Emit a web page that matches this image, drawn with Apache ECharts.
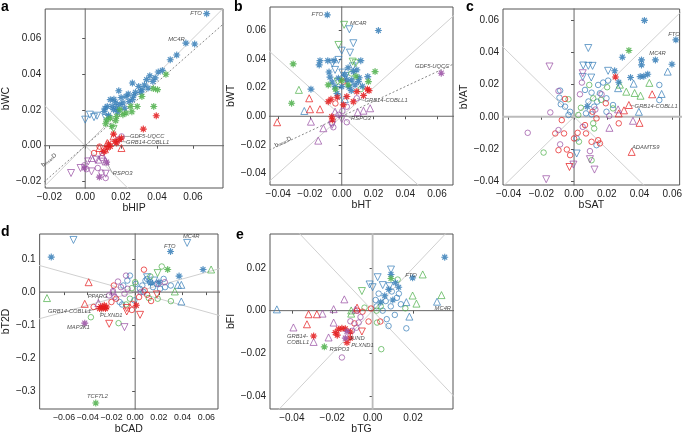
<!DOCTYPE html>
<html><head><meta charset="utf-8">
<script src="https://cdn.jsdelivr.net/npm/echarts@6/dist/echarts.min.js"></script>
<style>html,body{margin:0;padding:0;background:#fff}#c{width:685px;height:436px}</style>
</head><body><div id="c"></div><script>
// ---------- tick labels ----------
const aXTicks=[-0.02,0,0.02,0.04,0.06], aYTicks=[-0.02,0,0.02,0.04,0.06];
const bXTicks=[-0.04,-0.02,0,0.02,0.04,0.06], bYTicks=[-0.04,-0.02,0,0.02,0.04,0.06];
const cXTicks=[-0.04,-0.02,0,0.02,0.04,0.06], cYTicks=[-0.04,-0.02,0,0.02,0.04,0.06];
const dXTicks=[-0.06,-0.04,-0.02,0,0.02,0.04,0.06], dYTicks=[-0.3,-0.2,-0.1,0,0.1];
const eXTicks=[-0.04,-0.02,0,0.02], eYTicks=[-0.04,-0.02,0,0.02];
// ---------- data: [x, y, shape]  s=asterisk u=triangle up d=triangle down o=circle ----------
const aBlue=[[0.0677,0.074,'s'],[0.0561,0.0575,'s'],[0.061,0.057,'s'],[0.051,0.0508,'s'],[0.0474,0.0482,'s'],[0.043,0.0422,'s'],[0.0407,0.0413,'s'],[0.036,0.0392,'s'],[0.0342,0.037,'s'],[0.0263,0.0351,'s'],[0.0187,0.0308,'s'],[0.0298,0.0332,'s'],[0.0316,0.0314,'s'],[0.028,0.0299,'s'],[0.0228,0.0276,'s'],[0.014,0.0258,'s'],[0.0123,0.022,'s'],[0.0158,0.0202,'s'],[0.0193,0.023,'s'],[0.021,0.024,'s'],[0.0245,0.0248,'s'],[0.0263,0.0258,'s'],[0.035,0.0323,'s'],[0.0377,0.036,'s'],[0.0105,0.0192,'s'],[0.0175,0.0211,'s'],[0.016,0.026,'s'],[0.02,0.027,'s'],[0.024,0.029,'s'],[0.018,0.019,'s'],[0.013,0.017,'s'],[0.022,0.021,'s'],[0.027,0.028,'s'],[0.031,0.03,'s'],[0.033,0.034,'s'],[0.039,0.038,'s'],[0.017,0.024,'s'],[0.015,0.022,'s'],[0.011,0.021,'s'],[0.0,0.0146,'d'],[0.0026,0.0174,'d'],[0.0049,0.016,'d'],[0.0066,0.0168,'d'],[0.0114,0.0155,'d']];
const aGreen=[[0.045,0.04,'s'],[0.038,0.032,'s'],[0.0403,0.0314,'s'],[0.0382,0.022,'s'],[0.0316,0.0276,'s'],[0.0193,0.0202,'s'],[0.0228,0.0183,'s'],[0.0175,0.0164,'s'],[0.014,0.0155,'s'],[0.0114,0.0123,'s'],[0.0149,0.0108,'s'],[0.0254,0.022,'s'],[0.029,0.022,'s'],[0.021,0.0174,'s'],[0.026,0.019,'s'],[0.017,0.014,'s'],[0.012,0.0145,'s'],[0.0158,0.0094,'d']];
const aRed=[[0.0396,0.0168,'s'],[0.0324,0.0093,'s'],[0.0158,0.0065,'s'],[0.0189,0.0034,'s'],[0.0175,0.0015,'s'],[0.014,-0.0004,'s'],[0.0123,-0.0013,'s'],[0.0105,-0.0032,'s'],[0.0202,0.0043,'s'],[0.0166,0.0024,'s'],[0.013,0.001,'s'],[0.0158,0.0052,'u'],[0.0202,-0.0013,'u'],[0.0079,-0.0013,'u'],[0.0123,0.0015,'u'],[0.011,-0.002,'u'],[0.0049,-0.0041,'o'],[0.0096,-0.0041,'o'],[0.008,-0.0005,'o']];
const aPurple=[[0.0203,0.0052,'o'],[0.0185,0.0035,'o'],[-0.0079,-0.0153,'d'],[-0.0026,-0.0125,'d'],[0.0035,-0.0144,'d'],[0.0017,-0.0088,'d'],[0.0061,-0.0078,'d'],[0.0114,-0.0157,'d'],[0.0008,-0.0131,'o'],[0.0091,-0.015,'o'],[0.0114,-0.0181,'o'],[0.0093,-0.0069,'o'],[0.007,-0.0125,'o'],[-0.0005,-0.011,'o'],[0.0074,-0.0078,'u'],[0.0114,-0.0088,'u'],[0.0035,-0.0069,'u'],[0.0095,-0.005,'u'],[0.0079,-0.0176,'s'],[-0.0004,-0.0125,'s'],[0.0119,-0.0092,'s']];

const bBlue=[[-0.0091,0.0711,'s'],[0.0231,0.0601,'s'],[-0.0137,0.039,'s'],[-0.0142,0.036,'s'],[-0.0088,0.039,'s'],[-0.0049,0.039,'s'],[0.012,0.039,'s'],[0.0095,0.0325,'s'],[0.0073,0.0313,'s'],[0.0164,0.0278,'s'],[-0.0194,0.019,'s'],[-0.0074,0.0274,'s'],[-0.0021,0.0267,'s'],[0.0032,0.0255,'s'],[0.0063,0.0255,'s'],[0.0105,0.0243,'s'],[-0.0042,0.0208,'s'],[0,0.0208,'s'],[0.0046,0.0204,'s'],[0.0084,0.022,'s'],[-0.006,0.024,'s'],[0.002,0.029,'s'],[0.006,0.018,'s'],[-0.003,0.016,'s'],[0.011,0.027,'s'],[0.013,0.021,'s'],[-0.008,0.031,'s'],[0.004,0.034,'s'],[0.0048,0.061,'d'],[0.0073,0.0512,'d'],[0,0.046,'d'],[0.0052,0.0446,'d'],[-0.0021,0.0395,'d'],[-0.0059,0.0372,'d'],[-0.0042,0.0325,'d'],[0.0004,0.0306,'d'],[0.0025,0.0283,'d'],[0.007,0.035,'d'],[-0.0236,0.0037,'u'],[0.002,0.012,'u'],[-0.002,0.014,'o'],[0.005,0.023,'o']];
const bGreen=[[-0.0306,0.0367,'s'],[-0.0316,0.0091,'s'],[0.021,0.0313,'s'],[0.0168,0.0243,'s'],[-0.0085,0.022,'s'],[0.009,0.028,'s'],[0.0,0.025,'s'],[0.004,0.022,'s'],[-0.004,0.019,'s'],[0.0015,0.0641,'d'],[-0.0021,0.05,'d'],[0.0069,0.0383,'d'],[0.0088,0.0372,'d'],[-0.0025,0.0243,'d'],[-0.027,0.0185,'u'],[0.012,0.019,'o'],[0.006,0.03,'o']];
const bRed=[[0.0162,0.019,'s'],[0.0172,0.018,'s'],[0.0137,0.0145,'s'],[0.0095,0.0173,'s'],[0.0032,0.0138,'s'],[-0.0028,0.0133,'s'],[-0.0068,0.0119,'s'],[-0.0085,0.0102,'s'],[0.0073,0.0102,'s'],[-0.0063,-0.0003,'s'],[-0.0059,-0.0026,'s'],[0.001,0.008,'s'],[-0.0407,-0.0042,'u'],[-0.0205,0.0126,'u'],[-0.02,0.0049,'u'],[-0.0137,0.0049,'u'],[0.001,0.0243,'o'],[-0.004,0.009,'o']];
const bPurple=[[0.0627,0.0302,'s'],[-0.0194,-0.0038,'u'],[-0.0116,-0.0084,'u'],[-0.0148,-0.0171,'u'],[0.0179,0.0056,'u'],[0.0137,0.0039,'u'],[0.0101,0.0028,'u'],[-0.0042,0.0032,'u'],[0.0095,0.0126,'o'],[0.0032,0.0067,'o'],[0.0004,0.0037,'o'],[-0.0063,-0.0049,'o'],[-0.0053,-0.0077,'o'],[0.0032,-0.0042,'o'],[-0.002,0.001,'o'],[-0.006,-0.006,'d'],[0.0,-0.002,'d']];

const cBlue=[[0.043,0.06,'s'],[0.0622,0.0479,'s'],[0.0295,0.0371,'s'],[0.0412,0.0354,'s'],[0.0412,0.0323,'s'],[0.0497,0.0354,'s'],[0.0598,0.0327,'s'],[0.0248,0.0286,'s'],[0.0345,0.0244,'s'],[0.0404,0.025,'s'],[0.0426,0.0252,'s'],[0.045,0.0265,'s'],[0.0273,0.0215,'s'],[0.0081,0.0063,'s'],[0.0572,0.0281,'u'],[0.0364,0.0206,'u'],[0.0535,0.0142,'u'],[0.0396,0.0031,'u'],[0.0269,0.0178,'u'],[0.0087,0.0428,'d'],[0.0056,0.0319,'d'],[0.0087,0.0317,'d'],[0.0113,0.0317,'d'],[0.0105,0.0244,'d'],[0.0053,0.0248,'d'],[0.0208,0.0286,'d'],[0.0016,-0.0229,'d'],[-0.0085,0.0163,'o'],[-0.0089,0.0119,'o'],[-0.0081,0.0078,'o'],[-0.0055,0.0063,'o'],[-0.0024,0.0031,'o'],[-0.0034,0.0011,'o'],[0.0067,0.0167,'o'],[0.0107,0.015,'o'],[0.0147,0.0198,'o'],[0.0178,0.0213,'o'],[0.0158,0.0146,'o'],[0.0198,0.0115,'o'],[0.0141,0.0094,'o'],[0.0123,0.0063,'o'],[0.0073,0.0021,'o'],[0.0107,0.0015,'o'],[0.0198,0.0031,'o'],[0.0238,0.0073,'o'],[0.0521,0.0198,'o'],[0.0521,0.0104,'o'],[0.0137,-0.0177,'o'],[0.0016,-0.0135,'o'],[0.0208,0.0225,'o'],[0.0088,0.0095,'o']];
const cGreen=[[0.0335,0.0413,'s'],[0.046,0.0211,'u'],[0.037,0.0148,'u'],[0.0406,0.0131,'u'],[0.0319,0.0156,'u'],[0.028,0.02,'u'],[-0.0034,0.0109,'o'],[0.0042,0.0056,'o'],[0.0026,0.0011,'o'],[0.0093,0.0198,'o'],[0.0117,0.0115,'o'],[-0.0186,-0.0223,'o'],[0.0107,-0.0271,'o'],[0.0117,-0.0041,'o'],[0.0123,-0.0073,'o'],[0.0238,0.0052,'o'],[0.0202,0.0184,'o'],[0.0165,0.0105,'o'],[0.003,-0.0155,'o']];
const cRed=[[0.0253,0.0248,'s'],[0.0477,0.014,'u'],[0.0335,0.0073,'u'],[0.0305,0.004,'u'],[0.04,-0.0038,'u'],[0.0352,-0.0219,'u'],[0.0273,0.0021,'u'],[-0.0028,-0.0313,'d'],[-0.0055,0.0111,'o'],[-0.0075,-0.0021,'o'],[-0.0115,-0.0104,'o'],[-0.0061,-0.0104,'o'],[-0.0095,-0.0208,'o'],[-0.0044,-0.0204,'o'],[-0.0024,-0.0239,'o'],[0.0022,-0.01,'o'],[0.0073,-0.0104,'o'],[0.0107,-0.0156,'o'],[0.0147,-0.0146,'o'],[0.0158,-0.0166,'o'],[0.0067,-0.0052,'o'],[0.0137,-0.001,'o'],[0.0273,-0.0041,'o'],[0.0194,0.0084,'o'],[0.0113,0.0031,'o'],[0.0,-0.0135,'o']];
const cPurple=[[-0.015,0.0313,'d'],[0.0053,0.0271,'d'],[-0.017,-0.0389,'d'],[0.0097,-0.0264,'d'],[0.0125,-0.0329,'d'],[-0.0004,-0.0298,'d'],[0.036,-0.0025,'u'],[0.0216,-0.0069,'u'],[0.0269,0.0046,'u'],[-0.0283,-0.01,'o'],[-0.0145,0.0027,'o'],[0.0036,0.014,'o'],[0.0048,0.0213,'o'],[-0.0095,-0.0083,'o'],[-0.0085,-0.0172,'o'],[0.0097,-0.0214,'o'],[0.0053,-0.0063,'o'],[0.0168,0.014,'o'],[-0.0095,0.016,'o'],[0.0215,0.0005,'o'],[0.013,0.0045,'o']];

const dBlue=[[-0.0707,0.106,'s'],[0.0298,0.123,'s'],[0.0572,0.0685,'s'],[0.037,0.0485,'s'],[0.013,0.028,'s'],[0.02,0.03,'s'],[-0.052,0.158,'d'],[0.0438,0.149,'d'],[0.01,0.045,'d'],[0.016,0.035,'d'],[0.0389,0.022,'u'],[0.0389,-0.0285,'u'],[0.036,0.022,'u'],[-0.0044,0.05,'o'],[-0.0066,0.035,'o'],[0.0005,0.025,'o'],[0.006,0.02,'o'],[0.0087,0.035,'o'],[0.0128,0.03,'o'],[0.021,0.01,'o'],[0.0252,0.015,'o'],[-0.0008,-0.025,'o'],[-0.0131,-0.03,'o'],[-0.011,-0.0375,'o'],[0.01,0.04,'o'],[0.015,0.015,'o'],[0.004,0.01,'o'],[0.018,0.025,'o'],[0.024,0.04,'o'],[0.03,0.02,'o'],[-0.01,0.02,'o'],[0.007,0.0,'o']];
const dGreen=[[-0.0332,-0.336,'s'],[0.0274,0.0685,'s'],[0.064,0.0685,'u'],[-0.0743,-0.018,'u'],[0.0334,0.002,'u'],[0.0189,0.0576,'d'],[0.0224,0.0776,'o'],[0.0128,0.0473,'o'],[-0.014,-0.094,'o'],[-0.0373,-0.076,'o'],[0.0301,-0.0273,'o'],[0.0115,-0.018,'o'],[-0.0044,-0.02,'o'],[-0.0077,-0.0375,'o'],[-0.0028,0.012,'o'],[0.0,0.03,'o'],[0.019,-0.02,'o']];
const dRed=[[-0.029,-0.044,'s'],[-0.027,-0.048,'s'],[-0.025,-0.05,'s'],[-0.024,-0.045,'s'],[-0.03,-0.05,'s'],[-0.026,-0.04,'s'],[0.001,-0.04,'s'],[-0.0392,0.03,'u'],[-0.0425,-0.0355,'u'],[-0.0219,-0.096,'d'],[-0.0071,-0.0587,'d'],[0.0041,-0.0688,'d'],[0.0183,-0.007,'d'],[-0.0071,-0.048,'d'],[-0.035,-0.045,'o'],[-0.018,0.02,'o'],[0.0101,-0.008,'o'],[0.0033,-0.015,'o'],[0.0134,-0.027,'o'],[-0.0022,-0.0355,'o'],[-0.0028,-0.054,'o'],[-0.016,-0.02,'o'],[-0.02,-0.03,'o'],[0.008,0.005,'o'],[0.0074,0.068,'o']];
const dPurple=[[-0.0425,-0.094,'s'],[-0.031,-0.033,'u'],[-0.0187,0.002,'u'],[-0.009,-0.106,'d'],[-0.0077,0.05,'o'],[-0.0145,0.032,'o'],[-0.0187,0.003,'o'],[-0.009,-0.005,'o'],[0.0197,0.025,'o'],[0.0046,0.0,'o'],[-0.0173,-0.015,'o'],[-0.0063,0.01,'o'],[-0.022,-0.01,'o'],[0.025,0.03,'o'],[-0.012,0.015,'o']];

const eBlue=[[0.0357,0.0251,'s'],[0.0198,0.0154,'s'],[0.0091,0.017,'s'],[0.0129,0.011,'s'],[0.0113,0.0131,'s'],[0.008,0.01,'s'],[0.006,0.007,'s'],[0.01,0.005,'s'],[0.004,0.004,'s'],[-0.0474,0.0006,'u'],[0.0319,0.0042,'u'],[0.0182,-0.0028,'u'],[0.0167,0.004,'u'],[0.0091,0.0193,'d'],[0.0025,0.0157,'d'],[-0.0015,0.0123,'d'],[0.0084,0.0115,'d'],[0.005,0.012,'d'],[0.0,0.011,'d'],[0.0167,-0.0083,'o'],[0.0079,-0.0072,'o'],[0.003,0.008,'o'],[0.0065,0.0045,'o'],[0.009,0.002,'o'],[0.012,0.006,'o'],[0.014,0.003,'o'],[0.005,0.0,'o'],[0.011,-0.002,'o'],[0.002,0.002,'o'],[0.007,-0.004,'o'],[0.013,0.008,'o'],[0.0015,0.005,'o'],[0.0095,0.009,'o']];
const eGreen=[[-0.0239,-0.017,'s'],[0.0091,0.0151,'s'],[0.0248,0.017,'u'],[0.0198,0.0071,'u'],[0.0341,0.0073,'u'],[0.0217,0.0033,'u'],[-0.0106,0.0001,'u'],[-0.0106,-0.0014,'u'],[-0.0053,0.0092,'d'],[0.0043,-0.0181,'o'],[0.0124,0.0146,'o'],[0.0162,0.0011,'o'],[0.0022,-0.0056,'o'],[-0.004,0.0014,'o'],[0.004,0.002,'o'],[0.002,0.0,'o']];
const eRed=[[-0.0292,-0.0119,'s'],[-0.0185,-0.0103,'s'],[-0.0169,-0.0087,'s'],[-0.0152,-0.0083,'s'],[-0.0127,-0.015,'s'],[-0.0111,-0.0129,'s'],[-0.0135,-0.0085,'s'],[-0.011,-0.01,'s'],[-0.0175,-0.0115,'s'],[-0.0276,-0.0017,'u'],[-0.0317,-0.0017,'u'],[-0.0325,-0.0064,'u'],[-0.0077,0.0014,'u'],[-0.0053,-0.0098,'d'],[-0.002,-0.0051,'o'],[0.0038,-0.0051,'o'],[-0.0077,0.0,'o'],[-0.005,-0.0005,'o'],[-0.0008,0.001,'o'],[-0.009,-0.006,'o']];
const ePurple=[[-0.0135,-0.0129,'s'],[-0.0127,-0.0098,'s'],[-0.0392,-0.0079,'u'],[-0.0248,-0.0014,'u'],[-0.0193,0.0007,'u'],[-0.014,0.0053,'u'],[-0.0193,-0.0056,'u'],[-0.0218,-0.0126,'u'],[-0.0292,-0.0147,'u'],[-0.0085,0.0005,'u'],[-0.0152,-0.022,'o'],[-0.0069,-0.0056,'o'],[-0.0102,-0.0095,'o'],[-0.008,-0.008,'o'],[-0.006,-0.003,'o'],[-0.011,-0.005,'o']];

// ---------- gene labels: [x, y, text, align] ----------
const aLabels=[[0.0649,0.074,'FTO','right'],[0.0554,0.0598,'MC4R','right'],[0.0249,0.0052,'GDF5-UQCC','left'],[0.0228,0.0021,'GRB14-COBLL1','left'],[0.0154,-0.0157,'RSPO3','left']];
const bLabels=[[-0.0118,0.0711,'FTO','right'],[0.0052,0.0653,'MC4R','left'],[0.0678,0.0348,'GDF5-UQCC','right'],[0.0143,0.011,'GRB14-COBLL1','left'],[0.0059,-0.0014,'RSPO3','left']];
const cLabels=[[0.0645,0.0515,'FTO','right'],[0.046,0.0396,'MC4R','left'],[0.037,0.0067,'GRB14-COBLL1','left'],[0.0354,-0.0188,'ADAMTS9','left']];
const dLabels=[[0.0403,0.168,'MC4R','left'],[0.0243,0.14,'FTO','left'],[-0.040,-0.012,'PPARG','left'],[-0.0735,-0.059,'GRB14-COBLL1','left'],[-0.0296,-0.071,'PLXND1','left'],[-0.0575,-0.106,'MAP3K1','left'],[-0.0406,-0.316,'TCF7L2','left']];
const eLabels=[[0.0162,0.0165,'FTO','left'],[0.0307,0.001,'MC4R','left'],[-0.0424,-0.0121,'GRB14-','left'],[-0.0424,-0.015,'COBLL1','left'],[-0.0116,-0.0129,'JUND','left'],[-0.0106,-0.0161,'PLXND1','left'],[-0.0213,-0.0181,'RSPO3','left']];
// leader lines [[x1,y1],[x2,y2]]
const aLeaders=[[[0.0249,0.0052],[0.0205,0.0052]],[[0.0228,0.0021],[0.0192,0.0026]],[[0.0154,-0.0157],[0.0121,-0.0096]]];
const bLeaders=[[[0.0143,0.011],[0.0097,0.0124]],[[0.0059,-0.0014],[0.002,0.0012]]];
const cLeaders=[[[0.037,0.0067],[0.0338,0.0073]]];
const dLeaders=[[[-0.0425,-0.059],[-0.031,-0.05]],[[-0.0296,-0.067],[-0.027,-0.05]],[[-0.031,-0.016],[-0.031,-0.03]]];
const eLeaders=[];
// reference line slopes (through origin)
const aDotSlope=0.886, bDotSlope=0.52;

const COLORS={blue:'#377eb8',green:'#4daf4a',red:'#e41a1c',purple:'#984ea3'};
const HALO={blue:'rgba(55,126,184,0.35)',green:'rgba(77,175,74,0.35)',red:'rgba(228,26,28,0.35)',purple:'rgba(152,78,163,0.35)'};
const FONT='Liberation Sans';
const STAR='path://M5,0L5,10M0,5L10,5M1.5,1.5L8.5,8.5M1.5,8.5L8.5,1.5';

const panels=[
 {grid:{left:35,top:9,width:188,height:179},x:[-0.0223,0.0768],y:[-0.0237,0.0766],xt:aXTicks,yt:aYTicks,xd:2,yd:2,xn:'bHIP',yn:'bWC',yg:20,xf:10,
  groups:{blue:aBlue,green:aGreen,red:aRed,purple:aPurple},labels:aLabels,leaders:aLeaders,dot:aDotSlope},
 {grid:{left:270,top:7,width:183,height:178},x:[-0.0452,0.0701],y:[-0.0482,0.0766],xt:bXTicks,yt:bYTicks,xd:2,yd:2,xn:'bHT',yn:'bWT',yg:25,xf:10,
  groups:{blue:bBlue,green:bGreen,red:bRed,purple:bPurple},labels:bLabels,leaders:bLeaders,dot:bDotSlope},
 {grid:{left:503,top:9,width:178,height:176},x:[-0.0434,0.0645],y:[-0.0425,0.0671],xt:cXTicks,yt:cYTicks,xd:2,yd:2,xn:'bSAT',yn:'bVAT',yg:25,xf:10,hLight:true,
  groups:{blue:cBlue,green:cGreen,red:cRed,purple:cPurple},labels:cLabels,leaders:cLeaders},
 {grid:{left:35,top:234,width:183,height:176},x:[-0.0805,0.0698],y:[-0.354,0.176],xt:dXTicks,yt:dYTicks,xd:2,yd:1,xn:'bCAD',yn:'bT2D',yg:22,xf:8.8,
  groups:{blue:dBlue,green:dGreen,red:dRed,purple:dPurple},labels:dLabels,leaders:dLeaders},
 {grid:{left:270,top:234,width:183,height:176},x:[-0.0508,0.0398],y:[-0.0462,0.036],xt:eXTicks,yt:eYTicks,xd:2,yd:2,xn:'bTG',yn:'bFI',yg:23,xf:10,vLight:true,
  groups:{blue:eBlue,green:eGreen,red:eRed,purple:ePurple},labels:eLabels,leaders:eLeaders}
];

function fmt(d){return v=>(v<-1e-9?'\u2212':'')+Math.abs(v).toFixed(d);}
const grids=[],xAxes=[],yAxes=[],series=[];
panels.forEach((p,i)=>{
  grids.push(Object.assign({show:true,borderColor:'#555',borderWidth:1,backgroundColor:'transparent'},p.grid));
  const common={gridIndex:i,type:'value',splitLine:{show:false},axisLine:{show:false},
    nameLocation:'middle',nameTextStyle:{fontSize:10.5,color:'#222',fontFamily:FONT}};
  xAxes.push(Object.assign({},common,{min:p.x[0],max:p.x[1],name:p.xn,nameGap:15,
    axisTick:{show:true,customValues:p.xt,length:3,lineStyle:{color:'#555'}},
    axisLabel:{customValues:p.xt,formatter:fmt(p.xd),fontSize:p.xf,color:'#222',margin:4,fontFamily:FONT,showMinLabel:true,showMaxLabel:true,hideOverlap:false}}));
  yAxes.push(Object.assign({},common,{min:p.y[0],max:p.y[1],name:p.yn,nameGap:p.yg,
    axisTick:{show:true,customValues:p.yt,length:3,lineStyle:{color:'#555'}},
    axisLabel:{customValues:p.yt,formatter:fmt(p.yd),fontSize:10,color:'#222',margin:4,fontFamily:FONT,showMinLabel:true,showMaxLabel:true,hideOverlap:false}}));
  const line=(data,color,width,type)=>series.push({type:'line',xAxisIndex:i,yAxisIndex:i,data:data,symbol:'none',silent:true,clip:true,
    lineStyle:{color:color,width:width,type:type||'solid'},z:1,animation:false});
  line([[-1,-1],[1,1]],'#d0d0d0',1);
  line([[-1,1],[1,-1]],'#d0d0d0',1);
  if(p.dot) line([[-1,-p.dot],[1,p.dot]],'#888',1,[2,2]);
  line([[0,-1],[0,1]],p.vLight?'#bbb':'#666',p.vLight?1.8:1);
  line([[-1,0],[1,0]],p.hLight?'#bbb':'#666',p.hLight?1.8:1);
  p.leaders.forEach(l=>line(l,'#888',0.7));
  Object.keys(p.groups).forEach(cn=>{
    const arr=p.groups[cn];
    const pick=s=>arr.filter(d=>d[2]===s).map(d=>[d[0],d[1]]);
    const base={type:'scatter',xAxisIndex:i,yAxisIndex:i,silent:true,animation:false,z:3};
    series.push(Object.assign({},base,{data:pick('o'),symbol:'circle',symbolSize:5.5,itemStyle:{color:'rgba(0,0,0,0)',borderColor:COLORS[cn],borderWidth:0.9}}));
    series.push(Object.assign({},base,{data:pick('u'),symbol:'triangle',symbolSize:7,itemStyle:{color:'rgba(0,0,0,0)',borderColor:COLORS[cn],borderWidth:0.9}}));
    series.push(Object.assign({},base,{data:pick('d'),symbol:'triangle',symbolRotate:180,symbolSize:7,itemStyle:{color:'rgba(0,0,0,0)',borderColor:COLORS[cn],borderWidth:0.9}}));
    series.push(Object.assign({},base,{data:pick('s'),symbol:'circle',symbolSize:5,itemStyle:{color:HALO[cn]}}));
    series.push(Object.assign({},base,{data:pick('s'),symbol:STAR,symbolSize:7,itemStyle:{color:'rgba(0,0,0,0)',borderColor:COLORS[cn],borderWidth:1.1},z:4}));
  });
  series.push({type:'scatter',xAxisIndex:i,yAxisIndex:i,silent:true,animation:false,symbolSize:0,z:5,
    data:p.labels.map(l=>({value:[l[0],l[1]],name:l[2],label:{position:l[3]==='left'?'right':'left'}})),
    label:{show:true,distance:0,formatter:'{b}',fontSize:5.8,fontStyle:'italic',color:'#222',fontFamily:FONT}});
});

const letter=(t,x,y)=>({type:'text',left:x,top:y,style:{text:t,fontSize:14,fontWeight:'bold',fill:'#000',fontFamily:FONT}});
const bmean=(x,y,rot)=>({type:'text',x:x,y:y,rotation:rot,style:{text:'{b|b}{s|mean}{b|D}',rich:{b:{fontSize:6,fill:'#444',fontFamily:FONT},s:{fontSize:4,fill:'#444',verticalAlign:'bottom',fontFamily:FONT}},align:'center',verticalAlign:'middle'}});

const chart=echarts.init(document.getElementById('c'),null,{renderer:'canvas'});
chart.setOption({animation:false,backgroundColor:'#fff',grid:grids,xAxis:xAxes,yAxis:yAxes,series:series,
  graphic:[letter('a',1,0),letter('b',234,0),letter('c',466,0),letter('d',1,225),letter('e',236,228),
   bmean(49,160,0.69),bmean(283,142,0.44)]});
</script></body></html>
